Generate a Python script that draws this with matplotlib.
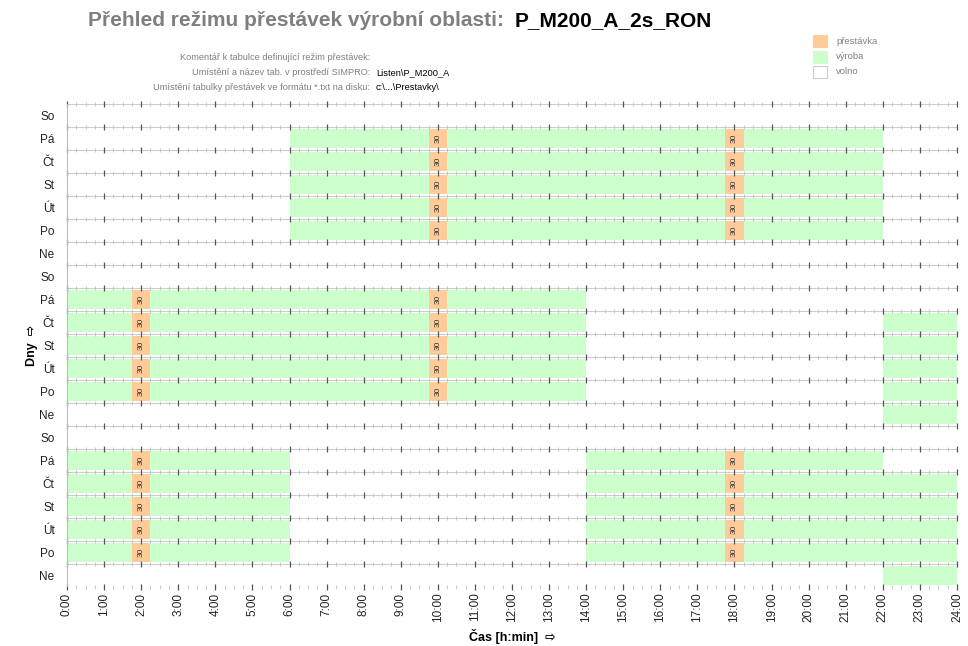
import matplotlib.pyplot as plt
from matplotlib.patches import Rectangle

plt.rcParams['font.family'] = ['Liberation Sans', 'DejaVu Sans']

# Rows from top to bottom (3 weeks)
day_labels = ['So', 'Pá', 'Čt', 'St', 'Út', 'Po', 'Ne'] * 3

# Production intervals per row: (row index from top, start hour, end hour)
work_rows = [1, 2, 3, 4, 5,
             8, 9, 10, 11, 12, 9, 10, 11, 12, 13,
             15, 16, 17, 18, 19, 15, 16, 17, 18, 19, 20]
work_start = [6, 6, 6, 6, 6,
              0, 0, 0, 0, 0, 22, 22, 22, 22, 22,
              0, 0, 0, 0, 0, 14, 14, 14, 14, 14, 22]
work_end = [22, 22, 22, 22, 22,
            14, 14, 14, 14, 14, 24, 24, 24, 24, 24,
            6, 6, 6, 6, 6, 22, 24, 24, 24, 24, 24]

# Breaks: row, start hour, length in minutes
break_rows = [1, 2, 3, 4, 5, 1, 2, 3, 4, 5,
              8, 9, 10, 11, 12, 8, 9, 10, 11, 12,
              15, 16, 17, 18, 19, 15, 16, 17, 18, 19]
break_start = [9.75] * 5 + [17.75] * 5 + [1.75] * 5 + [9.75] * 5 + [1.75] * 5 + [17.75] * 5
break_len = [30] * 30

hour_labels = ['%d:00' % h for h in range(25)]

green = '#CCFFCC'
orange = '#FFCC99'
n = len(day_labels)

fig = plt.figure(figsize=(9.68, 6.46), dpi=100)
ax = fig.add_axes([67 / 968, 1 - 587 / 646, 890 / 968, 483 / 646])
ax.set_xlim(0, 24)
ax.set_ylim(0, n)

def row_y(i):
    return n - 1 - i

gap = 0.1
for r, s, e in zip(work_rows, work_start, work_end):
    ax.broken_barh([(s, e - s)], (row_y(r) + gap, 1 - 2 * gap), facecolor=green, edgecolor='none')

for r, s, m in zip(break_rows, break_start, break_len):
    w = m / 60
    ax.broken_barh([(s, w)], (row_y(r) + gap, 1 - 2 * gap), facecolor=orange, edgecolor='none')
    ax.text(s + w / 2, row_y(r) + 0.5, str(m), rotation=90, ha='center', va='center',
            fontsize=6, color='#333333')

# row boundary lines with quarter-hour and hour ticks
quarters = [q / 4 for q in range(97) if q % 4]
hours = list(range(25))
for b in range(n + 1):
    ax.axhline(b, color='#cccccc', lw=0.8, zorder=1)
    ax.plot(quarters, [b] * len(quarters), ls='none', marker='|', ms=3, mew=0.6,
            color='#c0c0c0', zorder=2, clip_on=False)
    ax.plot(hours, [b] * len(hours), ls='none', marker='|', ms=4.5, mew=0.9,
            color='#555555', zorder=2, clip_on=False)

ax.axvline(0, color='#bbbbbb', lw=0.8)

for sp in ax.spines.values():
    sp.set_visible(False)

ax.set_yticks([row_y(i) + 0.5 for i in range(n)])
ax.set_yticklabels(day_labels, fontsize=8.5, color='#222222')
ax.set_xticks(hours)
ax.set_xticklabels(hour_labels, rotation=90, fontsize=8.5, color='#222222')
ax.tick_params(length=0, axis='y', pad=9)
ax.tick_params(length=0, axis='x', pad=4)

fig.text(32 / 968, 1 - 345 / 646, 'Dny  ⇨', rotation=90, fontsize=9, fontweight='bold',
         ha='center', va='center')
fig.text(512 / 968, 1 - 637 / 646, 'Čas [h:min]  ⇨', fontsize=9, fontweight='bold',
         ha='center', va='center')

# header
fig.text(88 / 968, 1 - 21 / 646, 'Přehled režimu přestávek výrobní oblasti:', fontsize=15,
         fontweight='bold', color='#7f7f7f', va='center', ha='left')
fig.text(515 / 968, 1 - 21 / 646, 'P_M200_A_2s_RON', fontsize=15,
         fontweight='bold', color='black', va='center', ha='left')

info_keys = ['Komentář k tabulce definující režim přestávek:',
             'Umístění a název tab. v prostředí SIMPRO:',
             'Umístění tabulky přestávek ve formátu *.txt na disku:']
info_vals = ['', 'Listen\\P_M200_A', 'c:\\...\\Prestavky\\']
for k, (key, val) in enumerate(zip(info_keys, info_vals)):
    yy = 1 - (57 + k * 15.5) / 646
    fig.text(370 / 968, yy, key, fontsize=6.7, color='#808080', ha='right', va='center')
    fig.text(376 / 968, yy, val, fontsize=6.7, color='black', ha='left', va='center')

legend_labels = ['přestávka', 'výroba', 'volno']
legend_colors = [orange, green, 'white']
for k, (lab, col) in enumerate(zip(legend_labels, legend_colors)):
    yc = 41 + k * 15.5
    fig.patches.append(Rectangle((813 / 968, 1 - (yc + 6) / 646), 14 / 968, 12 / 646,
                                 transform=fig.transFigure, facecolor=col,
                                 edgecolor='#cccccc' if col == 'white' else col, lw=0.8))
    fig.text(836 / 968, 1 - yc / 646, lab, fontsize=6.8, color='#808080', ha='left', va='center')

fig.savefig('out.png', dpi=100)
